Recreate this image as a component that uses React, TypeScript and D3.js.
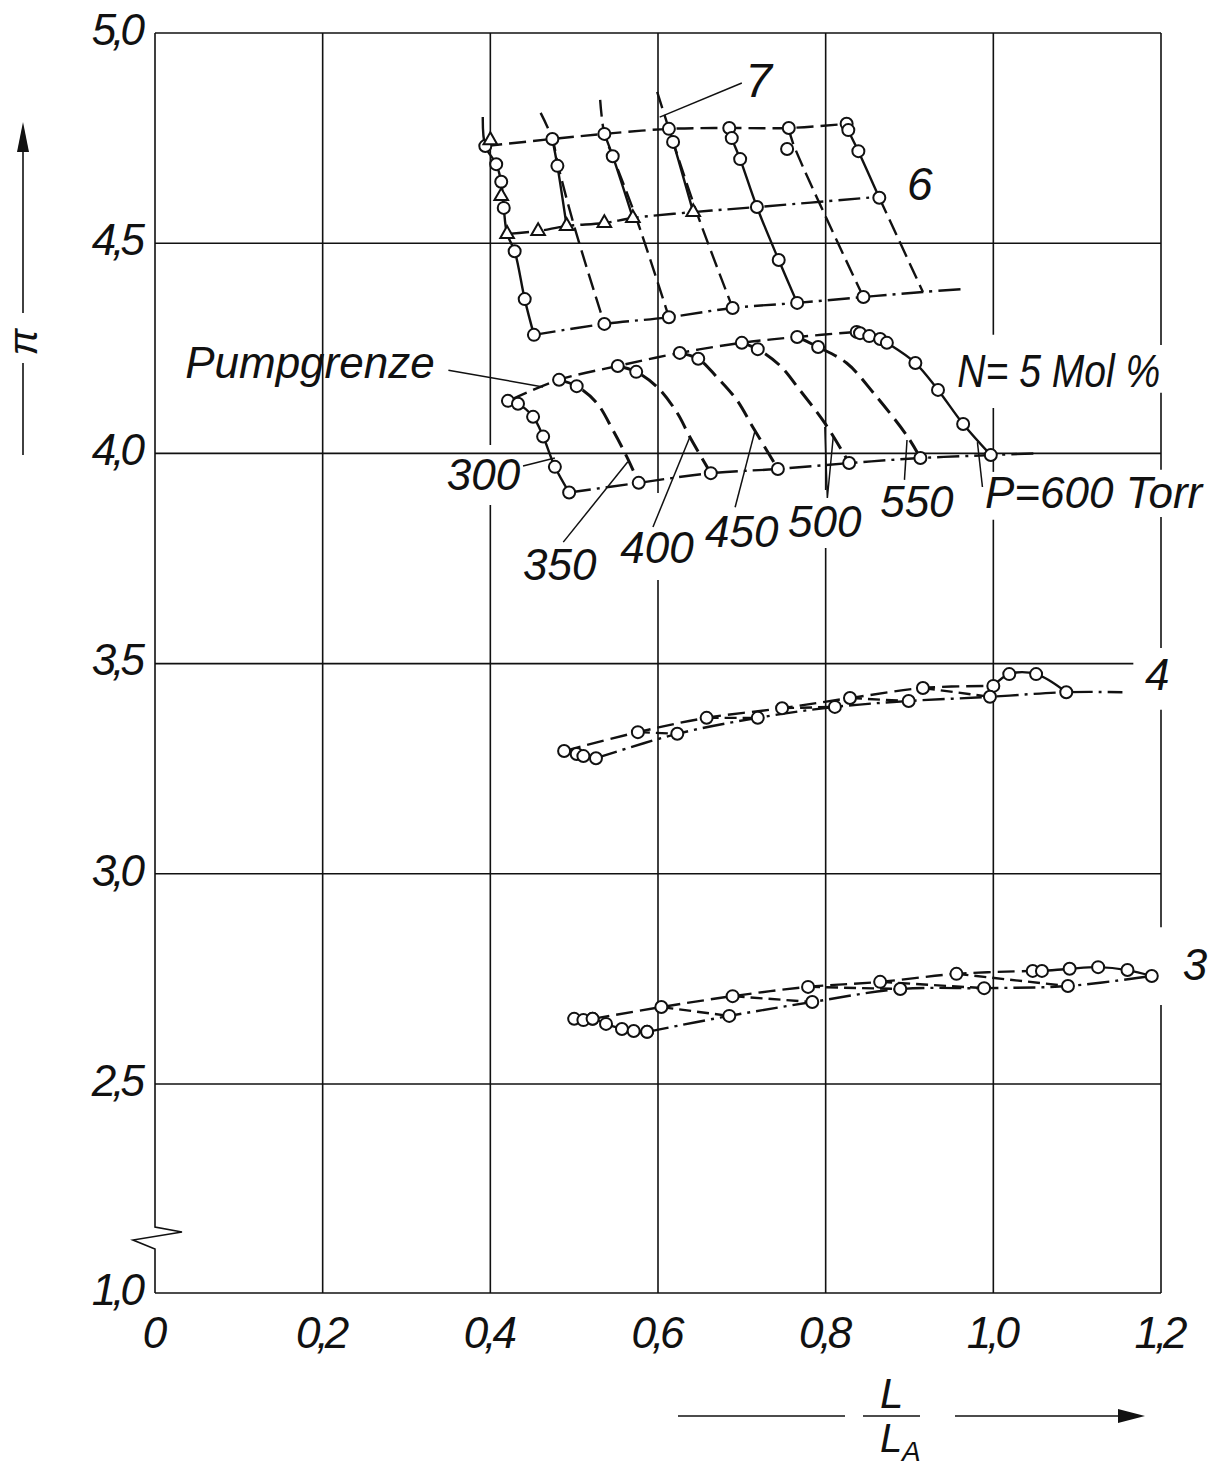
import React from "react";
import * as d3 from "d3";

type P = [number, number];

const W = 1211;
const H = 1468;

const xTicks = [0, 0.2, 0.4, 0.6, 0.8, 1.0, 1.2];
const xTickLabels = ["0", "0,2", "0,4", "0,6", "0,8", "1,0", "1,2"];
const yTicks = [1.0, 2.5, 3.0, 3.5, 4.0, 4.5, 5.0];
const yTickLabels = ["1,0", "2,5", "3,0", "3,5", "4,0", "4,5", "5,0"];

// --- upper family (7 / 6) ---
const surge7: P[] = [[0.394, 4.731], [0.474, 4.748], [0.536, 4.76], [0.613, 4.772], [0.685, 4.774], [0.756, 4.774], [0.825, 4.784]];
const choke7: P[] = [[0.452, 4.282], [0.536, 4.308], [0.613, 4.324], [0.689, 4.346], [0.766, 4.358], [0.845, 4.372], [0.916, 4.384], [0.964, 4.391]];
const mid6: P[] = [[0.42, 4.522], [0.457, 4.529], [0.491, 4.541], [0.536, 4.548], [0.57, 4.56], [0.642, 4.574], [0.718, 4.586], [0.862, 4.61]];
const speed7a: P[] = [[0.391, 4.8], [0.394, 4.731], [0.407, 4.688], [0.413, 4.646], [0.416, 4.584], [0.42, 4.522], [0.429, 4.481], [0.441, 4.367], [0.452, 4.282]];
const speed7b: P[] = [[0.46, 4.81], [0.474, 4.748], [0.481, 4.684], [0.5, 4.541], [0.536, 4.308]];
const speed6b: P[] = [[0.474, 4.748], [0.48, 4.684], [0.491, 4.541]];
const speed7c: P[] = [[0.531, 4.841], [0.536, 4.76], [0.546, 4.707], [0.574, 4.56], [0.613, 4.324]];
const speed6c: P[] = [[0.536, 4.76], [0.546, 4.707], [0.57, 4.56]];
const speed7d: P[] = [[0.599, 4.86], [0.613, 4.772], [0.618, 4.741], [0.646, 4.574], [0.689, 4.346]];
const speed6d: P[] = [[0.613, 4.772], [0.618, 4.741], [0.642, 4.574]];
const speed7e: P[] = [[0.685, 4.774], [0.688, 4.75], [0.698, 4.7], [0.718, 4.586], [0.744, 4.46], [0.766, 4.358]];
const speed7f: P[] = [[0.756, 4.774], [0.761, 4.738], [0.845, 4.372]];
const speed7g: P[] = [[0.825, 4.784], [0.827, 4.769], [0.839, 4.719], [0.864, 4.608]];
const speed7g2: P[] = [[0.864, 4.608], [0.916, 4.384]];
const circles7: P[] = [
  [0.394, 4.731], [0.407, 4.688], [0.413, 4.646], [0.416, 4.584], [0.429, 4.481], [0.441, 4.367], [0.452, 4.282],
  [0.474, 4.748], [0.48, 4.684], [0.536, 4.308], [0.536, 4.76], [0.546, 4.707], [0.613, 4.324],
  [0.613, 4.772], [0.618, 4.741], [0.689, 4.346], [0.685, 4.774], [0.688, 4.75], [0.698, 4.7],
  [0.718, 4.586], [0.744, 4.46], [0.766, 4.358], [0.756, 4.774], [0.754, 4.724], [0.845, 4.372],
  [0.825, 4.784], [0.827, 4.769], [0.839, 4.719], [0.864, 4.608],
];
const triangles6: P[] = [[0.4, 4.745], [0.413, 4.612], [0.42, 4.522], [0.457, 4.529], [0.491, 4.541], [0.536, 4.548], [0.57, 4.56], [0.642, 4.574]];

// --- N = 5 Mol % ---
const surge5: P[] = [[0.425, 4.128], [0.482, 4.175], [0.552, 4.208], [0.626, 4.239], [0.7, 4.263], [0.766, 4.277], [0.837, 4.289]];
const choke5: P[] = [[0.494, 3.907], [0.577, 3.93], [0.663, 3.953], [0.743, 3.963], [0.828, 3.977], [0.913, 3.989], [0.997, 3.996], [1.05, 4.0]];
const p300: P[] = [[0.421, 4.125], [0.433, 4.118], [0.451, 4.087], [0.463, 4.04], [0.477, 3.968], [0.494, 3.907]];
const p350: P[] = [[0.482, 4.175], [0.503, 4.16], [0.527, 4.12], [0.546, 4.056], [0.563, 3.991], [0.577, 3.93]];
const p400: P[] = [[0.552, 4.208], [0.574, 4.194], [0.599, 4.158], [0.623, 4.096], [0.638, 4.039], [0.663, 3.953]];
const p450: P[] = [[0.626, 4.239], [0.648, 4.225], [0.67, 4.182], [0.694, 4.127], [0.713, 4.063], [0.743, 3.963]];
const p500: P[] = [[0.7, 4.263], [0.719, 4.248], [0.746, 4.208], [0.769, 4.151], [0.799, 4.072], [0.828, 3.977]];
const p550: P[] = [[0.766, 4.277], [0.791, 4.253], [0.825, 4.215], [0.857, 4.144], [0.898, 4.039], [0.913, 3.989]];
const p600: P[] = [[0.837, 4.289], [0.841, 4.286], [0.852, 4.279], [0.865, 4.272], [0.873, 4.263], [0.907, 4.215], [0.934, 4.151], [0.964, 4.07], [0.997, 3.996]];
const circles5: P[] = [
  [0.421, 4.125], [0.433, 4.118], [0.451, 4.087], [0.463, 4.04], [0.477, 3.968], [0.494, 3.907],
  [0.482, 4.175], [0.503, 4.16], [0.577, 3.93], [0.552, 4.208], [0.574, 4.194], [0.663, 3.953],
  [0.626, 4.239], [0.648, 4.225], [0.743, 3.963], [0.7, 4.263], [0.719, 4.248], [0.828, 3.977],
  [0.766, 4.277], [0.791, 4.253], [0.913, 3.989],
];

// --- 4 ---
const surge4: P[] = [[0.488, 3.292], [0.576, 3.337], [0.658, 3.371], [0.748, 3.394], [0.829, 3.418], [0.916, 3.442], [1.0, 3.447]];
const choke4: P[] = [[0.526, 3.275], [0.623, 3.333], [0.719, 3.371], [0.811, 3.397], [0.899, 3.411], [0.996, 3.421], [1.087, 3.432], [1.154, 3.432]];
const p300of4: P[] = [[0.488, 3.292], [0.503, 3.285], [0.511, 3.28], [0.526, 3.275]];
const p600of4: P[] = [[1.0, 3.447], [1.019, 3.475], [1.051, 3.475], [1.087, 3.432]];

// --- 3 ---
const surge3: P[] = [[0.522, 2.655], [0.604, 2.683], [0.689, 2.709], [0.779, 2.731], [0.865, 2.743], [0.956, 2.762], [1.047, 2.769]];
const choke3: P[] = [[0.587, 2.624], [0.685, 2.662], [0.784, 2.695], [0.889, 2.726], [0.989, 2.728], [1.089, 2.733], [1.189, 2.757]];
const p300of3: P[] = [[0.5, 2.655], [0.511, 2.652], [0.522, 2.655], [0.538, 2.643], [0.557, 2.631], [0.571, 2.626], [0.587, 2.624]];
const p600of3: P[] = [[1.047, 2.769], [1.058, 2.769], [1.091, 2.774], [1.125, 2.778], [1.16, 2.771], [1.189, 2.757]];

const x = d3.scaleLinear().domain([0, 1.2]).range([155, 1161]);
// broken axis: 1,0 ... 2,5 squeezed into one half step
const y = d3.scaleLinear().domain([1.0, 2.5, 5.0]).range([1293, 1084, 33]);

const DASH = "17 7";
const DASHDOT = "22 6 3 6";
const FONT = "'Liberation Sans', Arial, sans-serif";

const line = d3
  .line<P>()
  .x(d => x(d[0]))
  .y(d => y(d[1]))
  .curve(d3.curveCatmullRom.alpha(0.5));

// connectors between surge and choke points of the low speed families
const conn4 = d3.zip(surge4.slice(1, 6), choke4.slice(1, 6)) as P[][];
const conn3 = d3.zip(surge3.slice(1, 6), choke3.slice(1, 6)) as P[][];

const curves: { pts: P[]; dash?: string; w?: number }[] = [
  { pts: surge7, dash: DASH },
  { pts: choke7, dash: DASHDOT },
  { pts: mid6, dash: DASHDOT },
  { pts: speed7a },
  { pts: speed7b, dash: DASH },
  { pts: speed6b },
  { pts: speed7c, dash: DASH },
  { pts: speed6c },
  { pts: speed7d, dash: DASH },
  { pts: speed6d },
  { pts: speed7e },
  { pts: speed7f, dash: DASH },
  { pts: speed7g },
  { pts: speed7g2, dash: DASH },
  { pts: surge5, dash: DASH },
  { pts: choke5, dash: DASHDOT },
  { pts: p300 },
  { pts: p350, dash: "18 8", w: 3 },
  { pts: p400, dash: "18 8", w: 3 },
  { pts: p450, dash: "18 8", w: 3 },
  { pts: p500, dash: "18 8", w: 3 },
  { pts: p550, dash: "18 8", w: 3 },
  { pts: p600 },
  { pts: surge4, dash: DASH },
  { pts: choke4, dash: DASHDOT },
  { pts: p300of4 },
  { pts: p600of4 },
  ...conn4.map(pts => ({ pts, dash: "12 6" })),
  { pts: surge3, dash: DASH },
  { pts: choke3, dash: DASHDOT },
  { pts: p300of3 },
  { pts: p600of3 },
  ...conn3.map(pts => ({ pts, dash: "12 6" })),
];

const circles: P[] = [
  ...circles7,
  ...circles5,
  ...p600,
  ...surge4,
  ...choke4.slice(0, 7),
  ...p300of4.slice(1, 3),
  ...p600of4.slice(1, 3),
  ...surge3,
  ...choke3,
  ...p300of3,
  ...p600of3.slice(1, 5),
];

// leader lines of the annotations
const leaders: P[][] = [
  [[0.602, 4.8], [0.7, 4.881]],
  [[0.35, 4.198], [0.463, 4.158]],
  [[0.439, 3.97], [0.477, 3.989]],
  [[0.487, 3.789], [0.564, 3.98]],
  [[0.594, 3.825], [0.638, 4.039]],
  [[0.692, 3.872], [0.716, 4.056]],
  [[0.799, 4.063], [0.802, 3.894], [0.809, 4.039]],
  [[0.894, 3.937], [0.897, 4.032]],
  [[0.987, 3.92], [0.981, 4.027]],
];

const labels: { t: string; at: P; size?: number; sx?: number }[] = [
  { t: "7", at: [0.704, 4.848], size: 48 },
  { t: "6", at: [0.897, 4.603], size: 46 },
  { t: "Pumpgrenze", at: [0.036, 4.179] },
  { t: "N= 5 Mol %", at: [0.957, 4.158], size: 46, sx: 0.85 },
  { t: "P=600 Torr", at: [0.99, 3.87] },
  { t: "300", at: [0.348, 3.913] },
  { t: "350", at: [0.439, 3.699] },
  { t: "400", at: [0.555, 3.739] },
  { t: "450", at: [0.656, 3.777] },
  { t: "500", at: [0.755, 3.801] },
  { t: "550", at: [0.865, 3.849] },
  { t: "4", at: [1.181, 3.437] },
  { t: "3", at: [1.226, 2.747] },
];

// gaps in the vertical grid lines where the labels sit (upper, lower)
const vGaps: Record<string, [number, number][]> = {
  "0.4": [[4.02, 3.877]],
  "0.6": [[3.906, 3.699]],
  "0.8": [[3.913, 3.775]],
  "1.0": [[4.282, 4.108], [3.956, 3.842]],
  "1.2": [[4.258, 4.144], [3.961, 3.849], [3.537, 3.39], [2.873, 2.688]],
};

function vSegments(xv: number): [number, number][] {
  const gaps = vGaps[xv.toFixed(1)] || [];
  const out: [number, number][] = [];
  let top = 5.0;
  for (const [a, b] of gaps) {
    out.push([top, a]);
    top = b;
  }
  out.push([top, 1.0]);
  return out;
}

const tri = d3.symbol(d3.symbolTriangle, 80)();

const App = () => {
  const x0 = x(0);
  const yb = y(1.0);
  const axisPath = `M${x0},${y(5)} L${x0},${yb - 66} L${x0 + 27},${yb - 61} L${x0 - 22},${yb - 53} L${x0},${yb - 44} L${x0},${yb}`;

  return (
    <svg width={W} height={H} style={{ position: "absolute", left: 0, top: 0, background: "#fff" }}>
      <rect width={W} height={H} fill="#fff" />
      {/* grid */}
      <g stroke="#111" strokeWidth={1.6} fill="none">
        {xTicks.slice(1).map(t =>
          vSegments(t).map(([a, b], i) => (
            <line key={`${t}-${i}`} x1={x(t)} x2={x(t)} y1={y(a)} y2={y(b)} />
          ))
        )}
        {yTicks.map(t => (
          <line key={t} x1={x(0)} x2={t === 3.5 ? x(1.167) : x(1.2)} y1={y(t)} y2={y(t)} />
        ))}
        <path d={axisPath} />
      </g>

      {/* tick labels */}
      <g fontFamily={FONT} fontStyle="italic" fontSize={44} fill="#111" letterSpacing={-4}>
        {yTicks.map((t, i) => (
          <text key={t} x={x(0) - 14} y={y(t) - 4} dy="0.36em" textAnchor="end">
            {yTickLabels[i]}
          </text>
        ))}
        {xTicks.map((t, i) => (
          <text key={t} x={x(t) - 2} y={1348} textAnchor="middle">
            {xTickLabels[i]}
          </text>
        ))}
      </g>

      {/* curves */}
      <g fill="none" stroke="#111" strokeLinejoin="round">
        {curves.map((c, i) => (
          <path key={i} d={line(c.pts) || ""} strokeWidth={c.w || 2.4} strokeDasharray={c.dash} />
        ))}
      </g>

      {/* leaders */}
      <g fill="none" stroke="#111" strokeWidth={1.5}>
        {leaders.map((l, i) => (
          <path key={i} d={d3.line<P>().x(d => x(d[0])).y(d => y(d[1]))(l) || ""} />
        ))}
      </g>

      {/* markers */}
      <g fill="#fff" stroke="#111" strokeWidth={2}>
        {circles.map((d, i) => (
          <circle key={i} cx={x(d[0])} cy={y(d[1])} r={6} />
        ))}
        {triangles6.map((d, i) => (
          <path key={i} d={tri || ""} transform={`translate(${x(d[0])},${y(d[1])})`} />
        ))}
      </g>

      {/* annotations */}
      <g fontFamily={FONT} fontStyle="italic" fill="#111">
        {labels.map(l => (
          <text
            key={l.t}
            transform={`translate(${x(l.at[0])},${y(l.at[1])}) scale(${l.sx || 1},1)`}
            fontSize={l.size || 44}
          >
            {l.t}
          </text>
        ))}
      </g>

      {/* y axis title */}
      <g stroke="#111" strokeWidth={1.6}>
        <line x1={23} x2={23} y1={455} y2={363} />
        <line x1={23} x2={23} y1={313} y2={148} />
      </g>
      <path d="M23,122 L17,152 L29,152 Z" fill="#111" />
      <text
        transform="translate(23,342) rotate(-90)"
        fontFamily={FONT}
        fontStyle="italic"
        fontSize={40}
        textAnchor="middle"
        dy="0.35em"
        fill="#111"
      >
        π
      </text>

      {/* x axis title */}
      <g stroke="#111" strokeWidth={1.6}>
        <line x1={678} x2={845} y1={1416} y2={1416} />
        <line x1={863} x2={920} y1={1416} y2={1416} />
        <line x1={955} x2={1122} y1={1416} y2={1416} />
      </g>
      <path d="M1145,1416 L1118,1409 L1118,1423 Z" fill="#111" />
      <g fontFamily={FONT} fontStyle="italic" fill="#111">
        <text x={880} y={1408} fontSize={42}>L</text>
        <text x={880} y={1452} fontSize={40}>L</text>
        <text x={902} y={1461} fontSize={28}>A</text>
      </g>
    </svg>
  );
};

export default App;
